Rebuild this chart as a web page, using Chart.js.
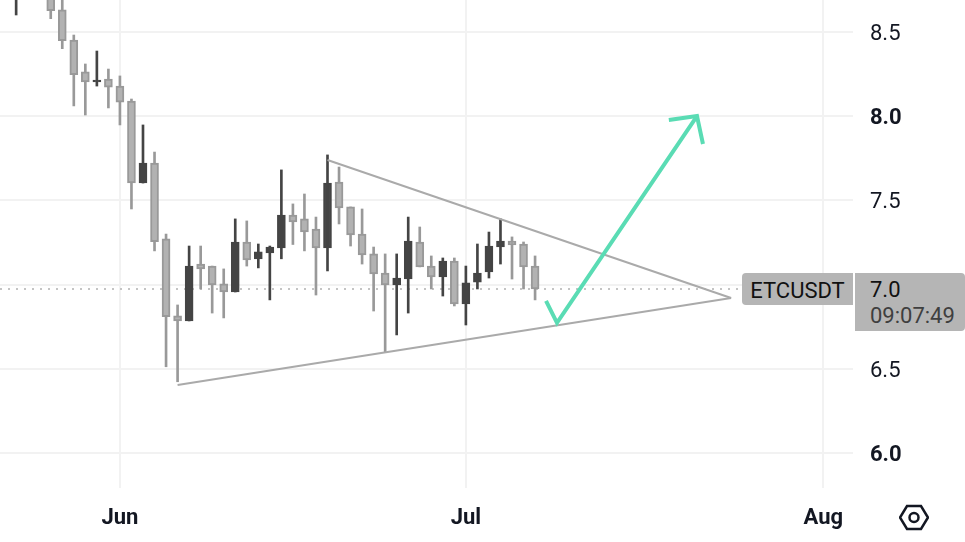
<!DOCTYPE html>
<html>
<head>
<meta charset="utf-8">
<title>ETCUSDT</title>
<script src="https://cdn.jsdelivr.net/npm/chart.js@4"></script>
<style>
    html, body { margin: 0; padding: 0; background: #fff; }
    #wrap { position: relative; width: 965px; height: 542px; overflow: hidden; font-family: Roboto, sans-serif; }
    canvas { position: absolute; left: 0; top: 0; }
    .tag { position: absolute; background: #b5b5b5; color: #111111; font-size: 22px; line-height: 24px; }
    #symbolTag { left: 742px; top: 273px; width: 111px; height: 32px; border-radius: 4px 0 0 4px; line-height: 35px; text-align: center; }
    #priceTag { left: 855px; top: 273px; width: 110px; height: 58px; border-radius: 0 4px 4px 0; }
    #priceTag div { position: absolute; left: 15px; white-space: nowrap; }
    #priceValue { top: 5px; }
    #priceTimer { top: 31px; color: #3f3f3f; }
    #logo { position: absolute; left: 899px; top: 503px; }
</style>
</head>
<body>
<div id="wrap">
    <canvas id="chart" width="965" height="542"></canvas>
    <div class="tag" id="symbolTag">ETCUSDT</div>
    <div class="tag" id="priceTag"><div id="priceValue">7.0</div><div id="priceTimer">09:07:49</div></div>
    <svg id="logo" width="30" height="28" viewBox="0 0 30 28">
        <polygon points="1,14.5 8,3 22,3 29,14.5 22,26 8,26" fill="none" stroke="#131722" stroke-width="2.5"></polygon>
        <circle cx="15" cy="14.5" r="4.5" fill="none" stroke="#131722" stroke-width="2.5"></circle>
    </svg>
</div>
<script>
// days counted from 1 Jun
const days = [-9, -6, -5, -4, -3, -2, -1, 0, 1, 2, 3, 4, 5, 6, 7, 8, 9, 10, 11, 12, 13, 14, 15, 16, 17, 18, 19, 20, 21, 22, 23, 24, 25, 26, 27, 28, 29, 30, 31, 32, 33, 34, 35, 36];
const opens = [8.75, 8.75, 8.631, 8.452, 8.263, 8.203, 8.221, 8.179, 8.090, 7.603, 7.722, 7.271, 6.814, 6.784, 7.122, 7.110, 7.004, 6.956, 7.253, 7.153, 7.188, 7.217, 7.413, 7.390, 7.330, 7.217, 7.609, 7.461, 7.300, 7.182, 7.069, 6.998, 7.033, 7.253, 7.110, 7.045, 7.140, 6.885, 7.015, 7.075, 7.223, 7.259, 7.241, 7.110];
const highs = [8.80, 8.78, 8.70, 8.482, 8.310, 8.387, 8.280, 8.239, 8.102, 7.948, 7.787, 7.300, 6.879, 7.229, 7.229, 7.110, 7.093, 7.390, 7.378, 7.241, 7.229, 7.681, 7.479, 7.538, 7.401, 7.770, 7.698, 7.461, 7.449, 7.223, 7.182, 7.182, 7.401, 7.342, 7.170, 7.158, 7.158, 7.110, 7.241, 7.312, 7.390, 7.283, 7.253, 7.170];
const lows = [8.601, 8.579, 8.401, 8.061, 8.007, 8.179, 8.049, 7.948, 7.449, 7.603, 7.200, 6.512, 6.423, 6.784, 6.974, 6.831, 6.802, 6.956, 7.110, 7.099, 6.909, 7.153, 7.238, 7.200, 6.938, 7.081, 7.360, 7.229, 7.122, 6.843, 6.600, 6.701, 6.831, 7.105, 6.974, 6.932, 6.873, 6.760, 6.974, 7.039, 7.122, 7.033, 6.974, 6.909];
const closes = [8.85, 8.627, 8.448, 8.246, 8.203, 8.215, 8.173, 8.084, 7.603, 7.722, 7.255, 6.809, 6.784, 7.110, 7.093, 6.998, 6.956, 7.253, 7.146, 7.194, 7.223, 7.413, 7.372, 7.312, 7.217, 7.603, 7.455, 7.295, 7.176, 7.063, 6.998, 7.039, 7.259, 7.105, 7.045, 7.140, 6.885, 7.010, 7.069, 7.229, 7.259, 7.235, 7.105, 6.974];

const lastPrice = 6.974;
const priceTicks = [6.0, 6.5, 7.0, 7.5, 8.0, 8.5];
const boldPrices = [6.0, 8.0];
const monthTicks = [0, 30, 61];
const monthLabels = ["Jun", "Jul", "Aug"];

// drawing tools, in day / price units
const wedgeTop = [{ x: 18, y: 7.740 }, { x: 53, y: 6.920 }];
const wedgeBottom = [{ x: 5, y: 6.404 }, { x: 53, y: 6.920 }];
const arrowPath = [{ x: 36.95, y: 6.903 }, { x: 37.9, y: 6.773 }, { x: 50.04, y: 8.001 }];
const arrowHead = [{ x: 47.6, y: 7.978 }, { x: 50.04, y: 8.001 }, { x: 50.56, y: 7.835 }];

const xMin = -10.4;
const xMax = 63.57;
const yMin = 5.792;
const yMax = 8.69;

const textColor = "#131722";
const gridColor = "#f2f2f2";
const upColor = "#444444";
const downFill = "#b2b2b2";
const downEdge = "#999999";
const lineGrey = "#aaaaaa";
const dotGrey = "#c4c4c4";
const arrowGreen = "#5adcb4";

const isUp = (i) => closes[i] > opens[i];
const wickColors = days.map((_, i) => (isUp(i) ? upColor : downEdge));
const bodyColors = days.map((_, i) => (isUp(i) ? upColor : downFill));

const lineSet = (data, color, width, order, extra) => ({
    type: "line",
    data,
    borderColor: color,
    borderWidth: width,
    pointRadius: 0,
    tension: 0,
    fill: false,
    order,
    ...extra,
});

new Chart(document.getElementById("chart"), {
    type: "bar",
    data: {
        datasets: [
            lineSet([{ x: xMin, y: lastPrice }, { x: xMax, y: lastPrice }], dotGrey, 2, 6, { borderDash: [2, 6] }),
            {
                data: days.map((d, i) => ({ x: d, y: [lows[i], highs[i]] })),
                backgroundColor: wickColors,
                barThickness: 2,
                grouped: false,
                order: 5,
            },
            {
                data: days.map((d, i) => ({ x: d, y: [opens[i], closes[i]] })),
                backgroundColor: bodyColors,
                borderColor: wickColors,
                borderWidth: 2,
                borderSkipped: false,
                barThickness: 8,
                grouped: false,
                order: 4,
            },
            lineSet(wedgeTop, lineGrey, 2, 3),
            lineSet(wedgeBottom, lineGrey, 2, 3),
            lineSet(arrowPath, arrowGreen, 4, 2),
            lineSet(arrowHead, arrowGreen, 4, 2),
        ],
    },
    options: {
        responsive: false,
        animation: false,
        layout: { padding: 0 },
        plugins: { legend: { display: false }, tooltip: { enabled: false } },
        scales: {
            x: {
                type: "linear",
                offset: false,
                min: xMin,
                max: xMax,
                afterFit: (scale) => {
                    scale.height = 54;
                    scale.paddingLeft = 0;
                    scale.paddingRight = 0;
                },
                afterBuildTicks: (scale) => { scale.ticks = monthTicks.map((value) => ({ value })); },
                grid: { color: gridColor, lineWidth: 2, drawTicks: false, offset: false },
                border: { display: false },
                ticks: {
                    autoSkip: false,
                    maxRotation: 0,
                    padding: 17,
                    color: textColor,
                    font: { family: "Roboto", size: 22, weight: "bold" },
                    callback: (value) => monthLabels[monthTicks.indexOf(value)],
                },
            },
            y: {
                position: "right",
                min: yMin,
                max: yMax,
                afterFit: (scale) => {
                    scale.width = 112;
                    scale.paddingTop = 0;
                    scale.paddingBottom = 0;
                },
                afterBuildTicks: (scale) => { scale.ticks = priceTicks.map((value) => ({ value })); },
                grid: { color: gridColor, lineWidth: 2, drawTicks: false },
                border: { display: false },
                ticks: {
                    autoSkip: false,
                    padding: 17,
                    labelOffset: 2.5,
                    color: textColor,
                    font: (ctx) => ({
                        family: "Roboto",
                        size: 22,
                        weight: ctx.tick && boldPrices.includes(ctx.tick.value) ? "bold" : "normal",
                    }),
                    // 7.0 sits under the price tag
                    callback: (value) => (value === 7 ? "" : value.toFixed(1)),
                },
            },
        },
    },
});
</script>
</body>
</html>
